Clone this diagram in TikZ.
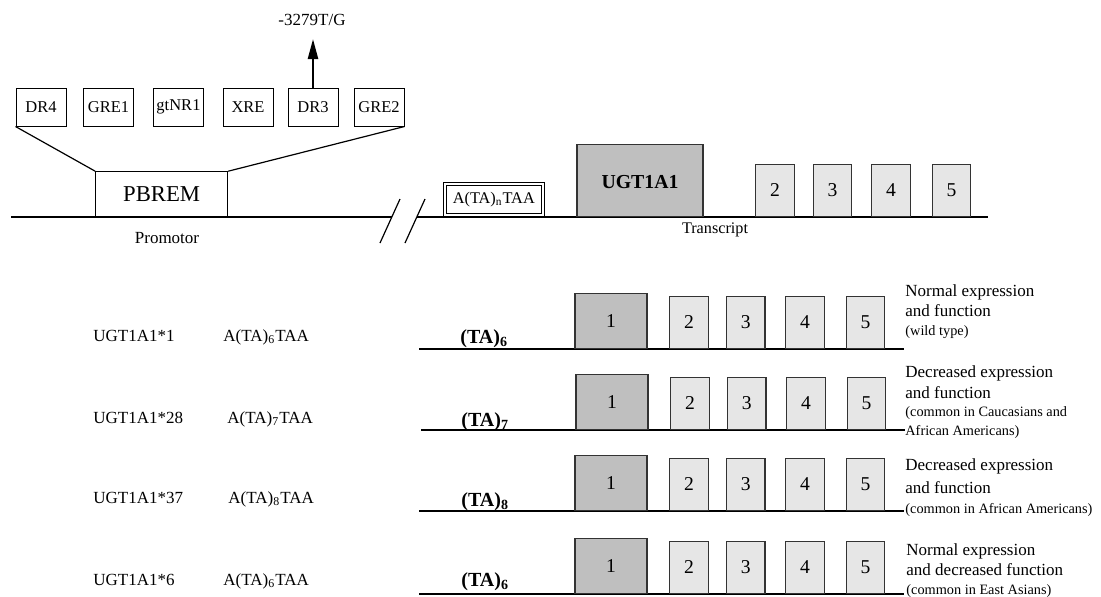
\documentclass[tikz,border=0pt]{standalone}
\usepackage{fontspec}
\setmainfont{Liberation Serif}
\usetikzlibrary{arrows.meta,positioning}
\definecolor{exondark}{HTML}{BFBFBF}
\definecolor{exonlight}{HTML}{E6E6E6}
\begin{document}
\begin{tikzpicture}[x=0.5pt, y=-0.5pt,
 site/.style={draw, fill=white, line width=0.5pt, minimum width=25pt, minimum height=19pt, inner sep=0pt, font=\fontsize{8.25}{10}\selectfont},
 exon/.style={draw=black!80, fill=exonlight, line width=0.6pt, inner sep=0pt, anchor=south, minimum width=19.25pt, minimum height=26pt, font=\fontsize{9.8}{11}\selectfont},
 firstexon/.style={exon, fill=exondark, minimum width=36pt, minimum height=27.5pt},
 lbl/.style={inner sep=0pt, anchor=base, font=\fontsize{8.5}{10}\selectfont},
 note/.style={lbl, anchor=base west},
 small/.style={note, font=\fontsize{7.15}{9}\selectfont},
 repeatlbl/.style={note, font=\bfseries\fontsize{10}{12}\selectfont},
 dna/.style={line width=1pt}]
 \useasboundingbox (0,0) rectangle (1101,596);
 % promoter with its binding sites
 \node[site] (dr4) at (41,107) {DR4};
 \node[site] (gre1) at (108.5,107) {GRE1};
 \node[site] (gtnr1) at (178.5,107) {gtNR1};
 \node[site] (xre) at (248,107) {XRE};
 \node[site] (dr3) at (313,107) {DR3};
 \node[site] (gre2) at (379,107) {GRE2};
 \draw[dna] (11,216.7) -- (392,216.7);
 \draw[dna] (417,216.7) -- (988,216.7);
 \draw[line width=0.6pt] (380,243) -- (400,199);
 \draw[line width=0.6pt] (405,243) -- (425,199);
 \node[draw, fill=white, line width=0.5pt, minimum width=66pt, minimum height=22.5pt, inner sep=0pt, font=\fontsize{11.35}{13}\selectfont] (pbrem) at (161.7,194.2) {PBREM};
 \draw[line width=0.6pt] (dr4.south west) -- (pbrem.north west);
 \draw[line width=0.6pt] (gre2.south east) -- (pbrem.north east);
 \coordinate (tip) at (313,39);
 \draw[line width=1.2pt, -{Triangle[length=10pt, width=5pt]}] (dr3.north) -- (tip);
 \node[lbl] (snp) at (312,25) {-3279T/G};
 \node[lbl] (prom) at (167,243) {Promotor};
 % gene
 \node[draw, double, double distance=1pt, line width=0.5pt, fill=white, minimum width=48.8pt, minimum height=15.5pt, inner sep=0pt, font=\fontsize{8.15}{10}\selectfont] (tata) at (493.8,199.2) {A(TA)\textsubscript{n}TAA};
 \node[firstexon, minimum width=63pt, minimum height=35.85pt, text height=8.8pt, font=\bfseries\fontsize{9.9}{11}\selectfont] (ugt) at (640,216.7) {UGT1A1};
 \node[exon] (t2) at (774.9,216.7) {2};
 \node[exon] (t3) at (832.4,216.7) {3};
 \node[exon] (t4) at (890.9,216.7) {4};
 \node[exon] (t5) at (951.4,216.7) {5};
 \node[lbl, font=\fontsize{8.1}{10}\selectfont] (trans) at (715,233) {Transcript};
 % UGT1A1*1
 \node[note] (v1) at (93,341) {UGT1A1*1};
 \node[note] (a1) at (223,341) {A(TA)\textsubscript{6}TAA};
 \draw[dna] (419,349) -- (904,349);
 \node[repeatlbl] (r1) at (460,343) {(TA)\textsubscript{6}};
 \node[firstexon] (x11) at (611,349) {1};
 \node[exon] (x12) at (689,349) {2};
 \node[exon] (x13) at (745.8,349) {3};
 \node[exon] (x14) at (805.1,349) {4};
 \node[exon] (x15) at (865.5,349) {5};
 \node[note] (d1a) at (905,296.7) {Normal expression};
 \node[note] (d1b) at (905,316) {and function};
 \node[small] (d1c) at (905,335) {(wild type)};
 % UGT1A1*28
 \node[note] (v2) at (93,423) {UGT1A1*28};
 \node[note] (a2) at (227,423) {A(TA)\textsubscript{7}TAA};
 \draw[dna] (421,430) -- (905,430);
 \node[repeatlbl] (r2) at (461,426.7) {(TA)\textsubscript{7}};
 \node[firstexon] (x21) at (612,430) {1};
 \node[exon] (x22) at (690,430) {2};
 \node[exon] (x23) at (746.8,430) {3};
 \node[exon] (x24) at (806.1,430) {4};
 \node[exon] (x25) at (866.5,430) {5};
 \node[note] (d2a) at (905,377) {Decreased expression};
 \node[note] (d2b) at (905,398) {and function};
 \node[small] (d2c) at (905,416.7) {(common in Caucasians and};
 \node[small] (d2d) at (905,435.7) {African Americans)};
 % UGT1A1*37
 \node[note] (v3) at (93,503) {UGT1A1*37};
 \node[note] (a3) at (228,503) {A(TA)\textsubscript{8}TAA};
 \draw[dna] (419,511) -- (904,511);
 \node[repeatlbl] (r3) at (461,506.7) {(TA)\textsubscript{8}};
 \node[firstexon] (x31) at (611,511) {1};
 \node[exon] (x32) at (689,511) {2};
 \node[exon] (x33) at (745.8,511) {3};
 \node[exon] (x34) at (805.1,511) {4};
 \node[exon] (x35) at (865.5,511) {5};
 \node[note] (d3a) at (905,470.7) {Decreased expression};
 \node[note] (d3b) at (905,493) {and function};
 \node[small] (d3c) at (905,513) {(common in African Americans)};
 % UGT1A1*6
 \node[note] (v4) at (93,585) {UGT1A1*6};
 \node[note] (a4) at (223,585) {A(TA)\textsubscript{6}TAA};
 \draw[dna] (419,594) -- (904,594);
 \node[repeatlbl] (r4) at (461,586.7) {(TA)\textsubscript{6}};
 \node[firstexon] (x41) at (611,594) {1};
 \node[exon] (x42) at (689,594) {2};
 \node[exon] (x43) at (745.8,594) {3};
 \node[exon] (x44) at (805.1,594) {4};
 \node[exon] (x45) at (865.5,594) {5};
 \node[note] (d4a) at (906,555) {Normal expression};
 \node[note] (d4b) at (906,575) {and decreased function};
 \node[small] (d4c) at (906,594) {(common in East Asians)};
\end{tikzpicture}
\end{document}
